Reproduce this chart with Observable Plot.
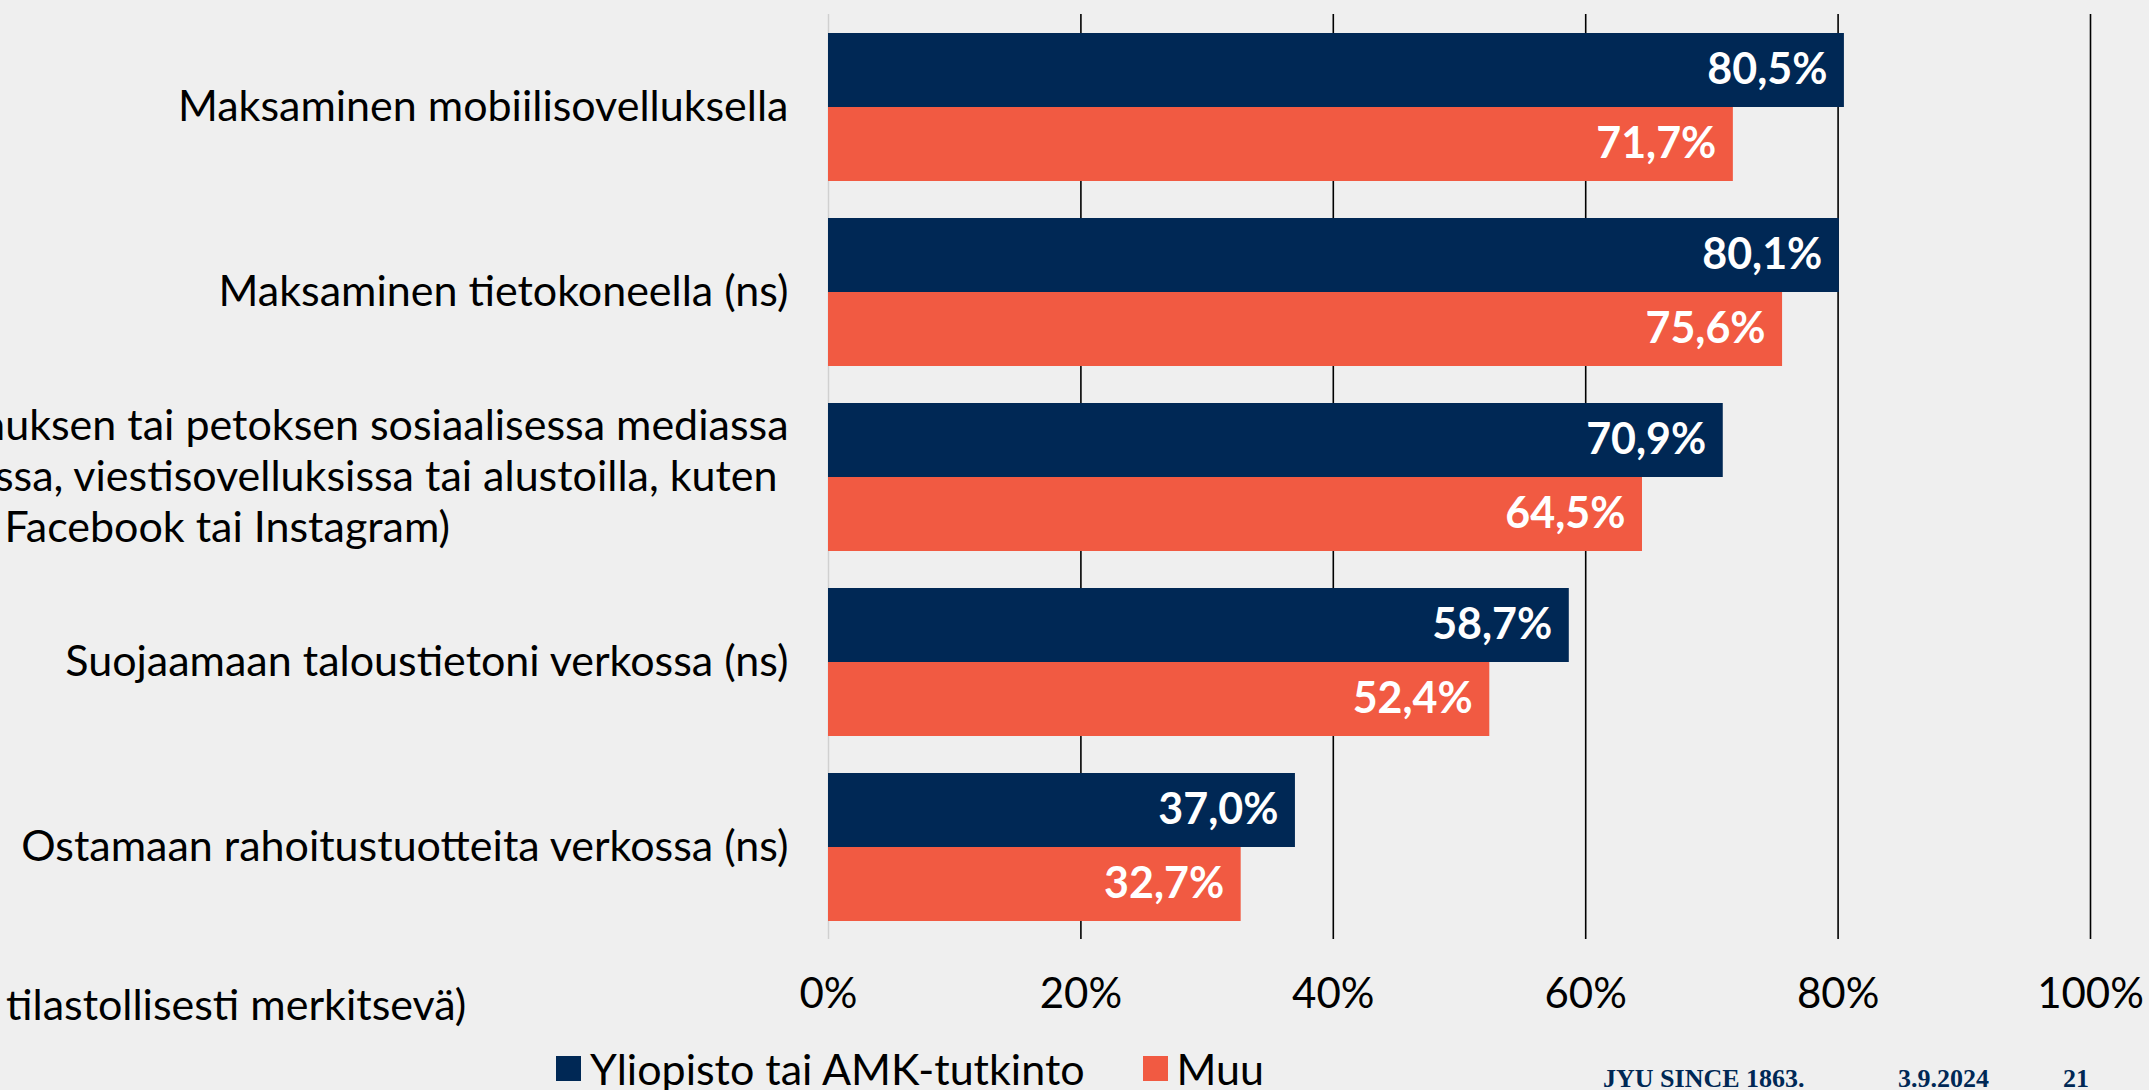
<!DOCTYPE html>
<html>
<head>
<meta charset="utf-8">
<script src="https://cdn.jsdelivr.net/npm/d3@7"></script>
<script src="https://cdn.jsdelivr.net/npm/@observablehq/plot@0.6"></script>
<style>
  html, body { margin: 0; padding: 0; background: #efefef; width: 2149px; height: 1090px; overflow: hidden; font-family: Lato, "Open Sans", sans-serif; }
  #chart { position: absolute; left: 0; top: 0; }
  #note { position: absolute; left: 6px; top: 982px; font-size: 43px; line-height: 1; color: #000; white-space: nowrap; }
  #legend { position: absolute; top: 1047px; left: 556px; font-size: 43px; line-height: 1; color: #000; white-space: nowrap; display: flex; align-items: center; }
  .sw { display: inline-block; width: 25px; height: 25px; margin-right: 9px; }
  .item { display: flex; align-items: center; margin-right: 58px; }
  #footer { position: absolute; top: 1066px; left: 0; font-family: "Liberation Serif", "DejaVu Serif", serif; font-weight: bold; font-size: 26px; line-height: 1; color: #002855; white-space: nowrap; }
  #footer span { position: absolute; top: 0; }
</style>
</head>
<body>
<div id="chart"></div>
<div id="note">tilastollisesti merkitsevä)</div>
<div id="legend"></div>
<div id="footer"><span style="left:1603px">JYU SINCE 1863.</span><span style="left:1898px">3.9.2024</span><span style="left:2063px">21</span></div>
<script>
const categories = [
  "Maksaminen mobiilisovelluksella",
  "Maksaminen tietokoneella (ns)",
  "auksen tai petoksen sosiaalisessa mediassa\nssa, viestisovelluksissa tai alustoilla, kuten\nFacebook tai Instagram)",
  "Suojaamaan taloustietoni verkossa (ns)",
  "Ostamaan rahoitustuotteita verkossa (ns)"
];
const series = ["Yliopisto tai AMK-tutkinto", "Muu"];
const yliopisto = [80.5, 80.1, 70.9, 58.7, 37.0];
const muu = [71.7, 75.6, 64.5, 52.4, 32.7];
const xTicks = [0, 20, 40, 60, 80, 100];
const colors = ["#002855", "#f15a42"];

const data = [];
categories.forEach((c, i) => {
  data.push({category: c, series: series[0], value: yliopisto[i]});
  data.push({category: c, series: series[1], value: muu[i]});
});

const fmt = v => v.toFixed(1).replace(".", ",") + "%";
const FS = 43;
const lineGap = 51;

const labelLines = [];
categories.forEach(c => {
  const lines = c.split("\n");
  lines.forEach((t, k) => labelLines.push({category: c, text: t, k, n: lines.length}));
});
// per-line placement of wrapped label lines (centered wrapping in the original)
const lineDy = d => d.n === 1 ? 0 : (d.k - 1) * lineGap;
const lineDx = d => d.n === 1 ? -40 : (d.k === 0 ? -40 : -51);

const fontFamily = "Lato, 'Open Sans', sans-serif";

const labelMarks = labelLines
  .filter(d => !(d.n > 1 && d.k === 2))
  .map(d => Plot.text([d], {fy: "category", text: "text", frameAnchor: "left", textAnchor: "end", dx: lineDx(d), dy: lineDy(d), fontSize: FS, fill: "#000"}));

const chart = Plot.plot({
  width: 2149,
  height: 1030,
  marginLeft: 828,
  marginRight: 59,
  marginTop: 14,
  marginBottom: 91,
  style: {background: "transparent", fontFamily, fontSize: "42px", color: "#000"},
  x: {domain: [0, 100], ticks: xTicks, tickFormat: d => d + "%", tickSize: 0, tickPadding: 39, label: null},
  y: {domain: series, paddingInner: 0, paddingOuter: 0.25, axis: null},
  fy: {domain: categories, padding: 0, axis: null},
  color: {domain: series, range: colors},
  marks: [
    Plot.ruleX([xTicks[0]], {stroke: "#d0d0d0", strokeWidth: 1.5}),
    Plot.ruleX(xTicks.slice(1), {stroke: "#000", strokeWidth: 1.6}),
    Plot.barX(data, {x: "value", y: "series", fy: "category", fill: "series"}),
    Plot.text(data, {x: "value", y: "series", fy: "category", text: d => fmt(d.value), textAnchor: "end", dx: -17, fill: "white", fontWeight: "bold", fontSize: FS}),
    ...labelMarks,
    Plot.text(labelLines, {
      filter: d => d.n > 1 && d.k === 2,
      fy: "category", text: "text", frameAnchor: "left", textAnchor: "start",
      dx: -824, dy: lineGap, fontSize: FS, fill: "#000"
    })
  ]
});
document.getElementById("chart").appendChild(chart);

const legend = document.getElementById("legend");
series.forEach((s, i) => {
  const item = document.createElement("div");
  item.className = "item";
  const sw = document.createElement("span");
  sw.className = "sw";
  sw.style.background = colors[i];
  const t = document.createElement("span");
  t.textContent = s;
  item.appendChild(sw);
  item.appendChild(t);
  legend.appendChild(item);
});
</script>
</body>
</html>
